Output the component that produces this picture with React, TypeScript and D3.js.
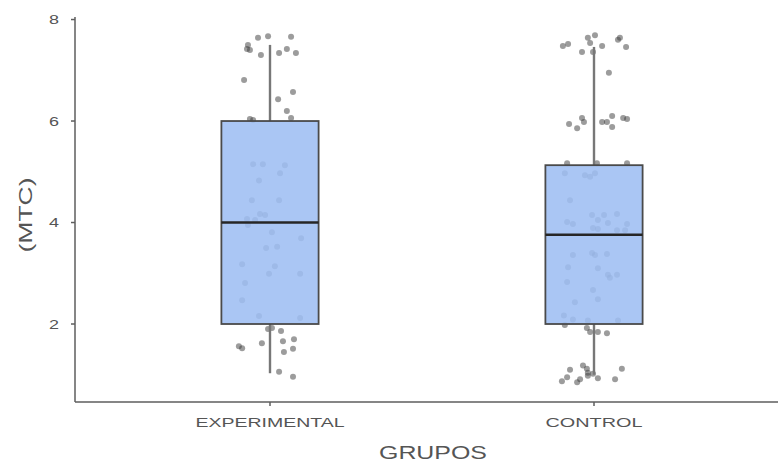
import React from "react";
import * as d3 from "d3";

// Groups and their box-plot summaries (min, Q1, median, Q3, max)
const groups = ["EXPERIMENTAL", "CONTROL"];
const boxMin = [1.03, 1.0];
const boxQ1 = [2.0, 2.0];
const boxMedian = [4.0, 3.76];
const boxQ3 = [6.0, 5.13];
const boxMax = [7.5, 7.46];

// Individual observations (MTC) and their horizontal jitter, in category units
const expValues = [
  7.5, 7.4, 7.42, 7.64, 7.67, 7.66, 7.3, 7.34, 7.42, 7.34, 6.81, 6.43, 6.57, 6.2, 6.06, 6.04, 6.02,
  5.15, 5.15, 5.13, 4.97, 4.83, 4.44, 4.44, 4.17, 4.15, 4.07, 4.05, 3.95, 3.81, 3.69, 3.5, 3.52,
  3.18, 3.14, 2.99, 2.99, 2.81, 2.47, 2.16, 2.12,
  1.9, 1.92, 1.86, 1.62, 1.56, 1.52, 1.66, 1.7, 1.45, 1.51, 1.06, 0.96,
];
const expJitter = [
  -0.068, -0.062, -0.071, -0.037, -0.006, 0.065, -0.028, 0.028, 0.052, 0.08, -0.08, 0.025, 0.071, 0.052, 0.065, -0.062, -0.052,
  -0.052, -0.022, 0.046, 0.031, -0.034, -0.056, 0.028, -0.031, -0.015, -0.071, -0.046, -0.068, 0.006, 0.096, -0.012, 0.022,
  -0.086, 0.015, -0.003, 0.093, -0.077, -0.086, -0.034, 0.093,
  -0.006, 0.006, 0.034, -0.025, -0.096, -0.086, 0.04, 0.074, 0.043, 0.071, 0.028, 0.071,
];
const ctrlValues = [
  7.48, 7.52, 7.64, 7.69, 7.54, 7.36, 7.48, 7.36, 7.6, 7.64, 7.46, 6.95,
  5.94, 5.86, 6.06, 5.98, 5.98, 5.98, 6.1, 5.88, 6.06, 6.04,
  5.17, 5.17, 5.17,
  4.97, 4.93, 4.9, 4.97, 4.44, 4.15, 4.15, 4.17, 4.05, 4.01, 3.97, 3.99, 3.97, 3.89, 3.87, 3.85, 3.85,
  3.36, 3.4, 3.36, 3.38, 3.12, 3.1, 2.97, 2.97, 2.91, 2.83, 2.67, 2.43, 2.49, 2.17, 2.09, 2.07, 2.07,
  1.98, 1.92, 1.84, 1.84, 1.82, 1.1, 1.18, 1.12, 0.98, 1.02, 0.93, 1.12, 0.91, 0.87, 0.95, 0.85, 0.91, 1.04,
];
const ctrlJitter = [
  -0.096, -0.08, -0.019, 0.003, -0.012, -0.003, 0.025, -0.037, 0.074, 0.08, 0.099, 0.046,
  -0.077, -0.052, -0.037, -0.031, 0.025, 0.04, 0.056, 0.056, 0.09, 0.102,
  -0.083, 0.009, 0.102,
  -0.09, -0.028, -0.012, 0.003, -0.074, -0.006, 0.031, 0.071, 0.012, -0.083, -0.065, 0.043, 0.102, -0.003, 0.012, 0.071, 0.096,
  -0.065, -0.006, 0.003, 0.04, -0.08, 0.012, 0.043, 0.071, 0.049, -0.083, -0.003, -0.059, 0.012, -0.093, -0.065, -0.019, 0.074,
  -0.09, -0.022, -0.012, 0.012, 0.04, -0.074, -0.034, -0.022, -0.019, -0.003, 0.012, 0.086, 0.065, -0.099, -0.083, -0.052, -0.043, -0.019,
];
const groupValues = [expValues, ctrlValues];
const groupJitter = [expJitter, ctrlJitter];

const yTicks = [2, 4, 6, 8];
const xTitle = "GRUPOS";
const yTitle = "(MTC)";

const WIDTH = 778;
const HEIGHT = 463;
const AXIS_X = 75;
const AXIS_Y = 402;
const BOX_WIDTH = 0.3;

const x = d3.scaleLinear().domain([0.4, 2.6]).range([75.6, 788.4]);
const y = d3.scaleLinear().domain([0.463, 8.05]).range([AXIS_Y, 17]);

const labelWidths = [149, 97];
const axisColor = "#5e5e5e";
const textColor = "#555";
const font = "'Liberation Sans', Arial, sans-serif";

export default function App() {
  return (
    <svg
      width={WIDTH}
      height={HEIGHT}
      style={{ position: "absolute", left: 0, top: 0, background: "#fff" }}
      fontFamily={font}
    >
      {/* jittered observations */}
      {groups.map((g, gi) =>
        groupValues[gi].map((v, i) => (
          <circle
            key={`${g}-${i}`}
            cx={x(gi + 1 + groupJitter[gi][i])}
            cy={y(v)}
            r={3}
            fill="#3a3a3a"
            fillOpacity={0.5}
          />
        ))
      )}

      {/* box plots */}
      {groups.map((g, gi) => {
        const cx = x(gi + 1);
        const x0 = x(gi + 1 - BOX_WIDTH / 2);
        const x1 = x(gi + 1 + BOX_WIDTH / 2);
        return (
          <g key={g}>
            <line x1={cx} x2={cx} y1={y(boxMax[gi])} y2={y(boxQ3[gi])} stroke="#777" strokeWidth={2.4} />
            <line x1={cx} x2={cx} y1={y(boxQ1[gi])} y2={y(boxMin[gi])} stroke="#777" strokeWidth={2.4} />
            <rect
              x={x0}
              y={y(boxQ3[gi])}
              width={x1 - x0}
              height={y(boxQ1[gi]) - y(boxQ3[gi])}
              fill="#9ebef3"
              fillOpacity={0.88}
              stroke="#4a4a4a"
              strokeWidth={1.8}
            />
            <line x1={x0} x2={x1} y1={y(boxMedian[gi])} y2={y(boxMedian[gi])} stroke="#262626" strokeWidth={2.5} />
          </g>
        );
      })}

      {/* y axis */}
      <line x1={AXIS_X} x2={AXIS_X} y1={17} y2={AXIS_Y} stroke={axisColor} strokeWidth={1.5} />
      {yTicks.map((t) => (
        <g key={t}>
          <line x1={AXIS_X - 4} x2={AXIS_X} y1={y(t)} y2={y(t)} stroke={axisColor} strokeWidth={1.5} />
          <text x={59} y={y(t)} dy="0.36em" textAnchor="end" fontSize={13} fill={textColor} textLength={10} lengthAdjust="spacingAndGlyphs">
            {t}
          </text>
        </g>
      ))}

      {/* x axis */}
      <line x1={AXIS_X} x2={WIDTH} y1={AXIS_Y} y2={AXIS_Y} stroke={axisColor} strokeWidth={1.5} />
      {groups.map((g, gi) => (
        <g key={g}>
          <line x1={x(gi + 1)} x2={x(gi + 1)} y1={AXIS_Y} y2={AXIS_Y + 4} stroke={axisColor} strokeWidth={1.5} />
          <text
            x={x(gi + 1)}
            y={427}
            textAnchor="middle"
            fontSize={13.5}
            fill={textColor}
            textLength={labelWidths[gi]}
            lengthAdjust="spacingAndGlyphs"
          >
            {g}
          </text>
        </g>
      ))}

      {/* axis titles */}
      <text x={433} y={459} textAnchor="middle" fontSize={19} fill={textColor} textLength={108} lengthAdjust="spacingAndGlyphs">
        {xTitle}
      </text>
      <text
        transform={`translate(32, 215) rotate(-90)`}
        textAnchor="middle"
        fontSize={19}
        fill={textColor}
        textLength={75}
        lengthAdjust="spacingAndGlyphs"
      >
        {yTitle}
      </text>
    </svg>
  );
}
